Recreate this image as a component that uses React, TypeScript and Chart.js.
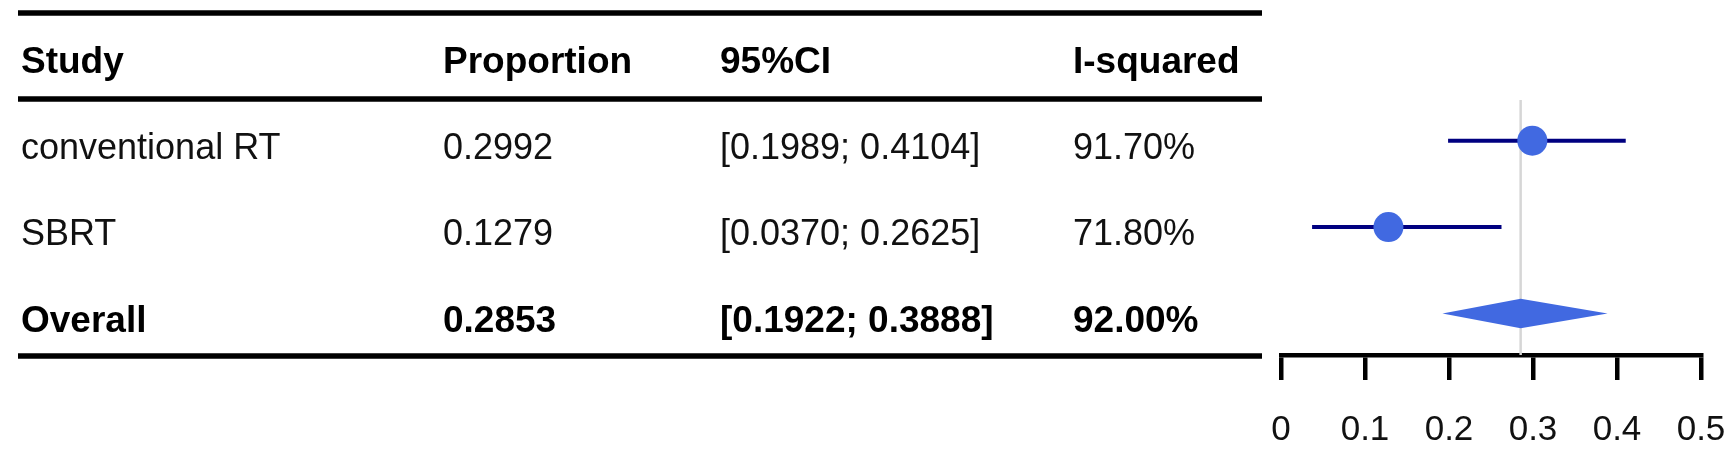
import React, { useEffect, useRef } from "react";
import { Chart, registerables } from "chart.js";

Chart.register(...registerables);

// ---- data ----
const headers = ["Study", "Proportion", "95%CI", "I-squared"];
const studies = ["conventional RT", "SBRT"];
const proportions = [0.2992, 0.1279];
const ciLower = [0.1989, 0.037];
const ciUpper = [0.4104, 0.2625];
const iSquared = [91.7, 71.8];
const overallLabel = "Overall";
const overallProportion = 0.2853;
const overallLower = 0.1922;
const overallUpper = 0.3888;
const overallISquared = 92.0;
const xTicks = [0, 0.1, 0.2, 0.3, 0.4, 0.5];

// ---- style ----
const FONT = '"Liberation Sans", Arial, Helvetica, sans-serif';
const MARKER_BLUE = "#4169E1";
const CI_NAVY = "#000080";
const REF_GRAY = "#d6d6d6";
const COL_X = [21, 443, 720, 1073];
const HEADER_BASELINE = 73;
const TEXT_OFFSET = 18;
const RULES_Y = [13, 99, 356];
const RULE_X0 = 18;
const RULE_X1 = 1262;
const DIAMOND_HALF = 0.17;

const fmtP = (v: number) => v.toFixed(4);
const fmtCI = (l: number, u: number) => `[${l.toFixed(4)}; ${u.toFixed(4)}]`;
const fmtI = (v: number) => `${v.toFixed(2)}%`;

const tablePlugin = {
  id: "forestTable",
  beforeDatasetsDraw(chart: any) {
    const { ctx, chartArea, scales } = chart;
    const x = scales.x.getPixelForValue(overallProportion);
    ctx.save();
    ctx.strokeStyle = REF_GRAY;
    ctx.lineWidth = 2.5;
    ctx.beginPath();
    ctx.moveTo(x, chartArea.top);
    ctx.lineTo(x, chartArea.bottom);
    ctx.stroke();
    ctx.restore();
  },
  afterDraw(chart: any) {
    const { ctx, scales } = chart;
    const y = scales.y;
    ctx.save();
    ctx.fillStyle = "#000";
    ctx.textAlign = "left";
    ctx.textBaseline = "alphabetic";
    ctx.font = `bold 37px ${FONT}`;
    headers.forEach((h, i) => ctx.fillText(h, COL_X[i], HEADER_BASELINE));
    ctx.font = `36px ${FONT}`;
    ctx.fillStyle = "#111";
    studies.forEach((s, i) => {
      const by = y.getPixelForValue(i + 1) + TEXT_OFFSET;
      ctx.fillText(s, COL_X[0], by);
      ctx.fillText(fmtP(proportions[i]), COL_X[1], by);
      ctx.fillText(fmtCI(ciLower[i], ciUpper[i]), COL_X[2], by);
      ctx.fillText(fmtI(iSquared[i]), COL_X[3], by);
    });
    ctx.font = `bold 37px ${FONT}`;
    ctx.fillStyle = "#000";
    const oy = y.getPixelForValue(studies.length + 1) + TEXT_OFFSET;
    ctx.fillText(overallLabel, COL_X[0], oy);
    ctx.fillText(fmtP(overallProportion), COL_X[1], oy);
    ctx.fillText(fmtCI(overallLower, overallUpper), COL_X[2], oy);
    ctx.fillText(fmtI(overallISquared), COL_X[3], oy);

    ctx.strokeStyle = "#000";
    ctx.lineWidth = 5.5;
    RULES_Y.forEach((ry) => {
      ctx.beginPath();
      ctx.moveTo(RULE_X0, ry);
      ctx.lineTo(RULE_X1, ry);
      ctx.stroke();
    });
    ctx.restore();
  },
};

export default function App() {
  const ref = useRef<HTMLCanvasElement | null>(null);
  useEffect(() => {
    document.body.style.margin = "0";
    const canvas = ref.current;
    if (!canvas) return;
    const oRow = studies.length + 1;
    const datasets: any[] = [
      {
        label: "Proportion",
        data: proportions.map((p, i) => ({ x: p, y: i + 1 })),
        backgroundColor: MARKER_BLUE,
        borderColor: MARKER_BLUE,
        borderWidth: 0,
        pointRadius: 15,
        pointHoverRadius: 15,
        showLine: false,
      },
      ...studies.map((s, i) => ({
        label: s + " CI",
        data: [
          { x: ciLower[i], y: i + 1 },
          { x: ciUpper[i], y: i + 1 },
        ],
        showLine: true,
        borderColor: CI_NAVY,
        borderWidth: 4,
        pointRadius: 0,
        fill: false,
      })),
      {
        label: overallLabel,
        data: [
          { x: overallLower, y: oRow },
          { x: overallProportion, y: oRow - DIAMOND_HALF },
          { x: overallUpper, y: oRow },
          { x: overallProportion, y: oRow + DIAMOND_HALF },
          { x: overallLower, y: oRow },
        ],
        showLine: true,
        borderWidth: 0,
        borderColor: MARKER_BLUE,
        backgroundColor: MARKER_BLUE,
        pointRadius: 0,
        fill: "shape",
        tension: 0,
      },
    ];
    const chart = new Chart(canvas, {
      type: "scatter",
      data: { datasets },
      options: {
        animation: false,
        responsive: false,
        maintainAspectRatio: false,
        events: [],
        layout: { padding: { left: 1281, right: 32, top: 100, bottom: 0 } },
        plugins: {
          legend: { display: false },
          tooltip: { enabled: false },
          title: { display: false },
        },
        scales: {
          x: {
            type: "linear",
            position: "bottom",
            min: 0,
            max: 0.5,
            afterBuildTicks: (scale: any) => {
              scale.ticks = xTicks.map((v) => ({ value: v }));
            },
            afterFit: (scale: any) => {
              scale.height = 98;
              scale.paddingLeft = 0;
              scale.paddingRight = 0;
            },
            ticks: {
              color: "#111",
              font: { family: FONT, size: 35 },
              padding: 29,
              maxRotation: 0,
              autoSkip: false,
              callback: (v: any) => (Number(v) === 0 ? "0" : Number(v).toFixed(1)),
            },
            grid: {
              drawOnChartArea: false,
              drawTicks: true,
              tickLength: 25,
              lineWidth: 4.5,
              color: "#000",
            },
            border: { display: true, width: 4.5, color: "#000" },
          },
          y: {
            type: "linear",
            display: false,
            min: 0.53,
            max: 3.48,
            reverse: true,
          },
        },
      },
      plugins: [tablePlugin],
    } as any);
    return () => chart.destroy();
  }, []);
  return (
    <div style={{ position: "absolute", left: 0, top: 0, width: 1733, height: 453, background: "#fff" }}>
      <canvas ref={ref} width={1733} height={453} style={{ display: "block" }} />
    </div>
  );
}
